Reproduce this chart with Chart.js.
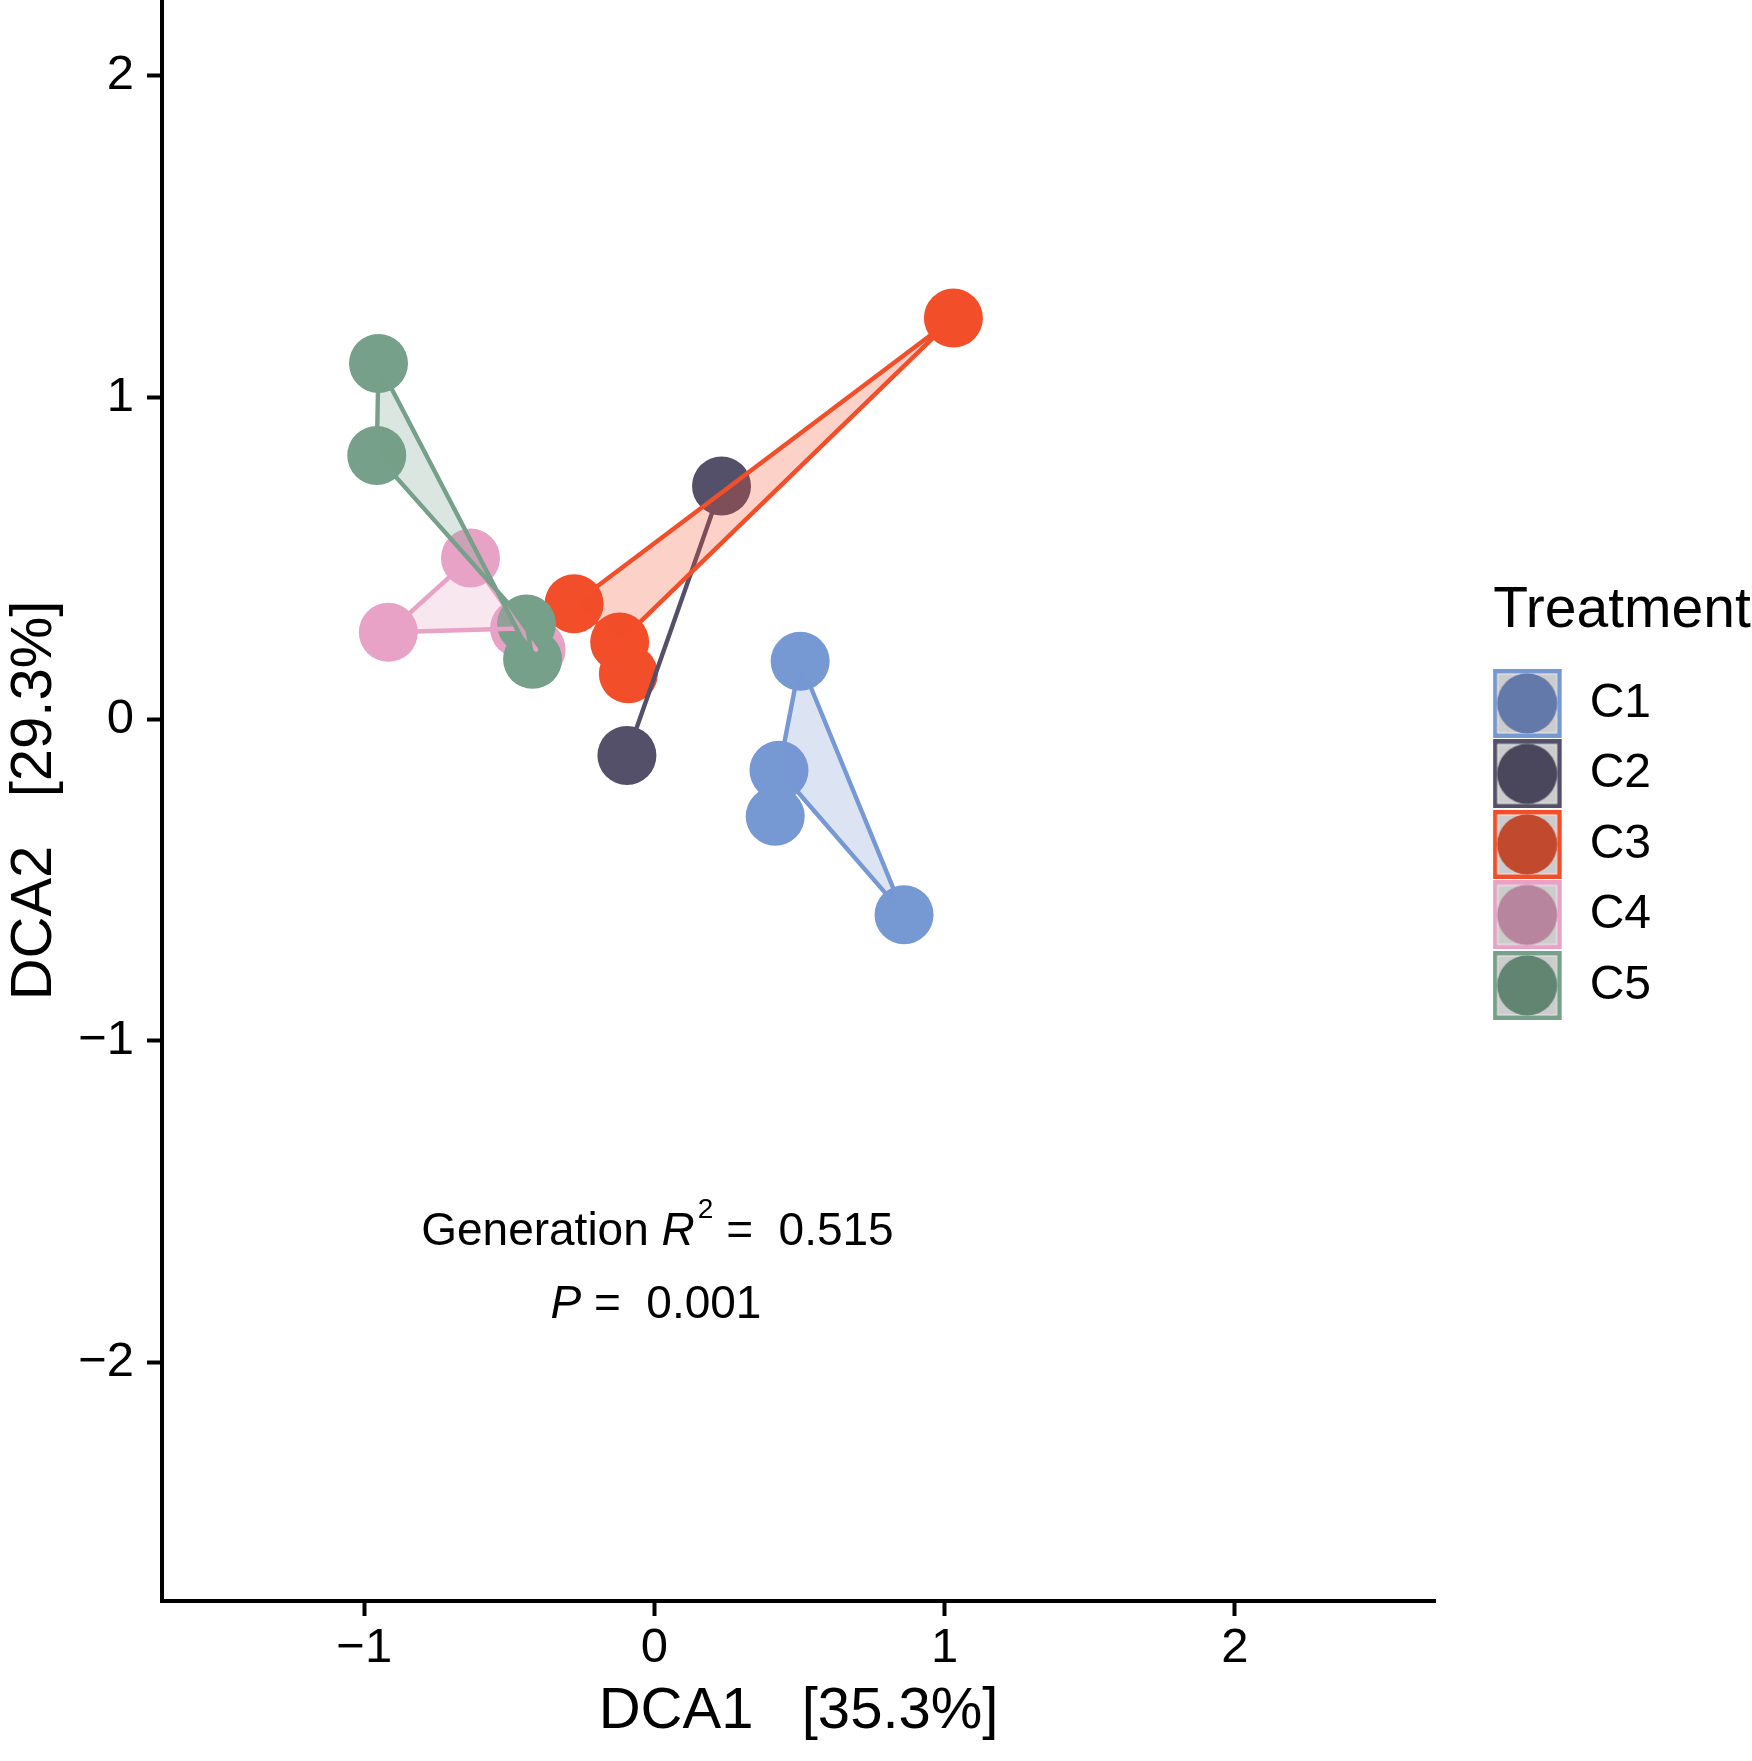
<!DOCTYPE html>
<html>
<head>
<meta charset="utf-8">
<title>DCA ordination</title>
<script src="https://cdn.jsdelivr.net/npm/chart.js@4.4.0/dist/chart.umd.min.js"></script>
<style>
    html, body { margin: 0; padding: 0; background: #fff; }
    #wrap { width: 1752px; height: 1761px; }
</style>
</head>
<body>
<div id="wrap"><canvas id="dca"></canvas></div>
<script>
//
// DATA
//
var groups = ['C1', 'C2', 'C3', 'C4', 'C5'];

var c1X = [0.502, 0.429, 0.416, 0.860];
var c1Y = [0.180, -0.159, -0.302, -0.608];
var c2X = [0.231, -0.095];
var c2Y = [0.725, -0.113];
var c3X = [1.030, -0.277, -0.120, -0.090];
var c3Y = [1.247, 0.359, 0.240, 0.141];
var c4X = [-0.634, -0.917, -0.465, -0.408];
var c4Y = [0.501, 0.270, 0.282, 0.216];
var c5X = [-0.951, -0.957, -0.441, -0.420];
var c5Y = [1.106, 0.820, 0.296, 0.186];

// order the hull outline visits each group's points
var c1Hull = [0, 1, 3];
var c2Hull = [0, 1];
var c3Hull = [0, 1, 2];
var c4Hull = [0, 3, 2, 1];
var c5Hull = [0, 3, 2, 1];

var xTicks = [-1, 0, 1, 2];
var yTicks = [-2, -1, 0, 1, 2];
var xLimits = [-1.697, 2.69];
var yLimits = [-2.742, 2.236];
var xTitle = 'DCA1   [35.3%]';
var yTitle = 'DCA2   [29.3%]';
var legendTitle = 'Treatment';

// PERMANOVA text, anchored in data units
var statX = 0.005;
var statY = [-1.634, -1.862];
var statLines = [
    [{ t: 'Generation ' }, { t: 'R', it: true }, { t: '2', sup: true }, { t: ' =  ' }, { t: '0.515' }],
    [{ t: 'P', it: true }, { t: ' =  ' }, { t: '0.001' }]
];

//
// STYLE
//
var lineColors = ['#7698d3', '#555069', '#f24e29', '#e7a2c6', '#76a089'];
var fillColors = ['rgba(118,152,211,0.26)', 'rgba(85,80,105,0.26)', 'rgba(242,78,41,0.26)',
    'rgba(231,162,198,0.26)', 'rgba(118,160,137,0.26)'];
var keyDots = ['#6279a9', '#4a465b', '#c0492e', '#b8859e', '#628572'];
var fontFamily = '"Liberation Sans", Arial, Helvetica, sans-serif';

Chart.defaults.font.family = fontFamily;
Chart.defaults.color = '#000';

var allX = [c1X, c2X, c3X, c4X, c5X];
var allY = [c1Y, c2Y, c3Y, c4Y, c5Y];
var allHull = [c1Hull, c2Hull, c3Hull, c4Hull, c5Hull];

function fmt(v) {
    return v < 0 ? '\u2212' + (-v) : '' + v;
}

// legend key: grey square, coloured frame, dot (extra width on the right is empty)
function makeKey(i) {
    var c = document.createElement('canvas');
    c.width = 96;
    c.height = 69;
    var g = c.getContext('2d');
    g.fillStyle = lineColors[i];
    g.fillRect(0, 0, 69, 69);
    g.fillStyle = '#eeeeee';
    g.fillRect(4.5, 4.5, 60, 60);
    g.fillStyle = '#cccccc';
    g.fillRect(5.5, 5.5, 58, 58);
    g.fillStyle = keyDots[i];
    g.beginPath();
    g.arc(34.5, 34.5, 30, 0, Math.PI * 2);
    g.fill();
    return c;
}
var keys = groups.map(function (g, i) { return makeKey(i); });

var datasets = [];
// points first in the drawing order (higher order = drawn earlier)
groups.forEach(function (g, i) {
    datasets.push({
        label: g,
        data: allX[i].map(function (x, k) { return { x: x, y: allY[i][k] }; }),
        backgroundColor: lineColors[i],
        borderWidth: 0,
        pointBorderWidth: 0,
        pointRadius: 29.5,
        pointHoverRadius: 29.5,
        order: 15 - i
    });
});
// hull polygons on top of the points
groups.forEach(function (g, i) {
    var ring = allHull[i].concat([allHull[i][0]]);
    datasets.push({
        label: g + ' hull',
        data: ring.map(function (k) { return { x: allX[i][k], y: allY[i][k] }; }),
        showLine: true,
        fill: 'shape',
        backgroundColor: fillColors[i],
        borderColor: lineColors[i],
        borderWidth: 4.4,
        borderJoinStyle: 'round',
        pointRadius: 0,
        pointHoverRadius: 0,
        order: 5 - i
    });
});

function partFont(p) {
    var size = p.sup ? 28 : 46;
    return (p.it ? 'italic ' : '') + size + 'px ' + fontFamily;
}

var statText = {
    id: 'statText',
    afterDatasetsDraw: function (chart) {
        var ctx = chart.ctx;
        var cx = chart.scales.x.getPixelForValue(statX);
        statLines.forEach(function (parts, k) {
            var base = chart.scales.y.getPixelForValue(statY[k]);
            var widths = parts.map(function (p) {
                ctx.font = partFont(p);
                return ctx.measureText(p.t).width;
            });
            var total = widths.reduce(function (a, b) { return a + b; }, 0);
            var x = cx - total / 2;
            ctx.save();
            ctx.fillStyle = '#000';
            ctx.textAlign = 'left';
            ctx.textBaseline = 'alphabetic';
            parts.forEach(function (p, j) {
                ctx.font = partFont(p);
                ctx.fillText(p.t, p.sup ? x + 3 : x, p.sup ? base - 27 : base);
                x += widths[j] + (p.sup ? 3 : 0);
            });
            ctx.restore();
        });
    }
};

// let the legend title run past the legend's own box
var legendRoom = {
    id: 'legendRoom',
    afterLayout: function (chart) {
        var l = chart.legend;
        if (l) {
            l.right = chart.width;
            l.width = l.right - l.left;
        }
    }
};

function noPad(s) {
    s.paddingTop = 0;
    s.paddingBottom = 0;
    s.paddingLeft = 0;
    s.paddingRight = 0;
}

var chart = new Chart('dca', {
    type: 'scatter',
    data: { datasets: datasets },
    plugins: [statText, legendRoom],
    options: {
        responsive: true,
        maintainAspectRatio: false,
        animation: false,
        events: [],
        layout: { autoPadding: false, padding: { left: 0, top: 0, bottom: 0, right: 91 } },
        plugins: {
            tooltip: { enabled: false },
            legend: {
                position: 'right',
                align: 'start',
                title: {
                    display: true,
                    text: legendTitle,
                    position: 'start',
                    color: '#000',
                    font: { size: 57 },
                    padding: { top: 582.5, bottom: 6 }
                },
                labels: {
                    usePointStyle: true,
                    pointStyleWidth: 50,
                    padding: 22.5,
                    color: '#000',
                    font: { size: 48 },
                    generateLabels: function () {
                        return groups.map(function (g, i) {
                            return {
                                text: g,
                                pointStyle: keys[i],
                                fillStyle: lineColors[i],
                                strokeStyle: lineColors[i],
                                lineWidth: 0,
                                fontColor: '#000',
                                hidden: false,
                                datasetIndex: i
                            };
                        });
                    }
                }
            }
        },
        scales: {
            x: {
                type: 'linear',
                position: 'bottom',
                min: xLimits[0],
                max: xLimits[1],
                afterBuildTicks: function (s) {
                    s.ticks = xTicks.map(function (v) { return { value: v }; });
                },
                afterFit: function (s) { s.height = 160; noPad(s); },
                grid: { drawOnChartArea: false, drawTicks: true, tickLength: 15, tickWidth: 4, tickColor: '#000', color: '#000' },
                border: { display: true, color: '#000', width: 4 },
                ticks: { color: '#000', font: { size: 49 }, padding: 3, maxRotation: 0, callback: fmt },
                title: {
                    display: true, text: xTitle, color: '#000',
                    font: { size: 58, lineHeight: 1.1 },
                    padding: { top: 0, bottom: 17.5 }
                }
            },
            y: {
                type: 'linear',
                position: 'left',
                min: yLimits[0],
                max: yLimits[1],
                afterBuildTicks: function (s) {
                    s.ticks = yTicks.map(function (v) { return { value: v }; });
                },
                afterFit: function (s) { s.width = 162; noPad(s); },
                grid: { drawOnChartArea: false, drawTicks: true, tickLength: 15, tickWidth: 4, tickColor: '#000', color: '#000' },
                border: { display: true, color: '#000', width: 4 },
                ticks: { color: '#000', font: { size: 49 }, padding: 13, callback: fmt },
                title: {
                    display: true, text: yTitle, color: '#000',
                    font: { size: 58, lineHeight: 1.1 },
                    padding: { top: 3, bottom: 0 }
                }
            },
            // empty strip between the panel and the legend
            gap: {
                type: 'linear',
                position: 'right',
                display: true,
                grid: { display: false },
                border: { display: false },
                ticks: { display: false },
                afterFit: function (s) { s.width = 58; noPad(s); }
            }
        }
    }
});
</script>
</body>
</html>
